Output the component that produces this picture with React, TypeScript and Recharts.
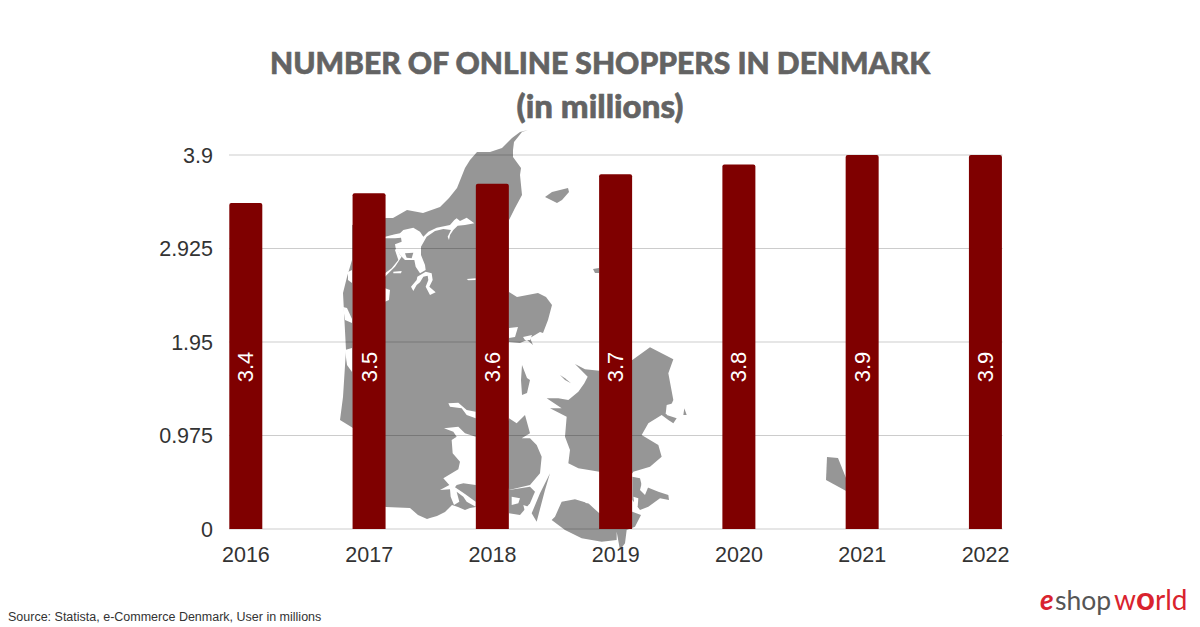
import { BarChart, Bar, XAxis, YAxis, CartesianGrid, LabelList } from 'recharts';

const years = ['2016', '2017', '2018', '2019', '2020', '2021', '2022'];
const shoppers = [3.4, 3.5, 3.6, 3.7, 3.8, 3.9, 3.9];
const yTicks = [0, 0.975, 1.95, 2.925, 3.9];

const rows = years.map((year, i) => ({ year, shoppers: shoppers[i] }));

// backdrop map, traced by hand (not data). Each group has its own origin and scale.
const LAND = '#969696';
const mapGroups = [
  {
    x: 0, y: 0, s: 1,
    land: [
      // Jutland
      '528,130 522,132 514,142 513,150 513,157 521,168 520,175 522,195 515,208 509,220 509,292 517,297 538,293 546,297 552,305 548,320 543,333 540,332 530,338 533,345 527,340 520,343 509,342 476,390 476,507 470,508 465,510 458,507 452,505 445,512 437,516 430,518 427,519 418,515 410,508 386,507 353,500 353,428 340,420 343,397 346,350 343,293 347,277 352,260 352,225 386,218 393,218 407,210 423,213 440,207 449,198 457,188 465,168 470,160 477,152 490,152 502,148 512,138 520,132',
      // Samso, Laeso, Anholt, Bornholm
      '522,365 527,378 530,380 527,393 522,395 521,380',
      '545,197 552,192 568,188 569,192 562,200 557,203',
      '593,269 599,268 599,273 595,273',
      '827,457 838,458 842,468 846,478 848,492 826,480',
    ],
    water: [
      '343,307 347,308 352,319 352,323 345,320',
      '348,272 352,270 352,283 348,280',
      '345,350 352,348 352,372 347,365',
      '509,328 518,327 515,337 509,338',
      '523,337 532,335 530,340 525,340',
    ],
  },
  {
    // Limfjord
    x: 385, y: 205, s: 1 / 3,
    land: [],
    water: [
      '0,95 30,88 45,85 55,75 85,68 105,80 115,95 130,80 155,68 195,60 208,45 215,40 225,48 245,38 268,55 240,60 218,62 205,75 195,90 192,105 188,95 198,75 175,72 150,78 125,95 108,125 108,150 120,180 122,195 105,205 92,185 88,165 60,165 45,150 32,130 30,118 50,110 48,98 30,100 0,100',
      '97,215 122,200 140,205 143,225 133,245 152,262 135,270 122,245 130,225 128,212 115,215 105,232 95,240 85,258 78,245 95,225',
      '35,130 45,150 50,155 30,185 5,210 0,215 0,205 20,190 40,165 30,135',
      '25,200 50,198 48,205 25,205',
      '0,250 15,255 12,285 0,290',
      '245,222 272,220 272,225 250,226',
    ],
  },
  {
    x: 385, y: 205, s: 1 / 3,
    land: ['60,145 85,143 80,160 65,158'],
    water: [],
  },
  {
    // Jutland east coast, Funen, Langeland
    x: 430, y: 390, s: 1 / 3,
    land: [
      '237,85 260,100 285,75 300,130 275,145 300,145 320,165 335,200 330,250 300,285 237,300 200,200',
      '237,300 300,290 315,305 300,340 270,375 237,370',
      '360,250 345,300 320,395 305,370 330,310',
    ],
    water: [
      '55,40 85,38 110,60 137,65 137,85 110,75 95,55 60,50',
      '42,115 85,110 105,130 137,140 137,285 100,280 80,285 75,292 105,312 137,335 137,350 110,335 100,320 80,305 88,335 72,345 62,320 60,298 30,300 58,285 40,265 85,238 90,215 68,190 65,150 80,140 70,125',
      '245,320 270,325 265,340 245,345',
      '280,345 295,350 285,365',
    ],
  },
  {
    // Zealand, Lolland, Falster, Mon
    x: 545, y: 340, s: 1 / 3,
    land: [
      '90,72 120,88 163,92 262,60 315,22 385,58 370,100 385,180 365,225 395,235 385,250 370,240 350,225 310,250 290,285 340,315 350,350 315,380 265,395 262,400 163,395 100,385 70,370 75,330 60,290 65,230 15,205 50,205 5,175 40,175 70,180 100,155 118,130 128,110',
      '418,205 425,225 415,225',
      '30,530 50,485 90,478 130,490 163,520 262,515 288,525 270,560 245,570 240,610 225,630 215,575 215,600 170,605 110,595 60,570 20,540',
      '262,410 285,415 290,435 340,455 370,465 372,480 345,475 310,500 285,510 262,480 262,440',
      '45,105 60,115 78,130 60,120',
    ],
    water: [
      '265,470 280,475 278,500 268,495',
      '290,430 310,440 300,465 285,450',
      '110,480 135,470 150,490 125,490',
      '365,195 385,190 372,225 362,222',
    ],
  },
];

function BarValue({ x, y, width, height, value }: any) {
  const cx = x + width / 2;
  // the value sits at the same height on every bar
  const cy = y + height - 162;
  return (
    <text x={cx} y={cy} fill="#ffffff" fontSize={22} textAnchor="middle" dominantBaseline="central"
      transform={`rotate(-90 ${cx} ${cy})`} fontFamily="Liberation Sans">
      {value}
    </text>
  );
}

const tickStyle = { fill: '#333333', fontSize: 21.5, fontFamily: 'Liberation Sans' };

export default function App() {
  return (
    <div style={{ position: 'absolute', left: 0, top: 0, width: 1200, height: 627, background: '#fff', overflow: 'hidden' }}>
      <svg width={1200} height={627} style={{ position: 'absolute', left: 0, top: 0 }}>
        {mapGroups.map((g, i) => (
          <g key={i} transform={`translate(${g.x} ${g.y}) scale(${g.s})`}>
            {g.land.map((p, j) => <polygon key={j} points={p} fill={LAND} />)}
            {g.water.map((p, j) => <polygon key={j} points={p} fill="#ffffff" />)}
          </g>
        ))}
      </svg>
      <div style={{ position: 'absolute', left: 0, top: 0 }}>
        <BarChart width={1200} height={627} data={rows} margin={{ top: 155, right: 197.5, left: 149, bottom: 58 }} barSize={33}>
          <CartesianGrid vertical={false} stroke="rgba(0,0,0,0.2)" strokeWidth={1} />
          <XAxis dataKey="year" interval={0} padding={{ left: -44.7, right: -44.7 }} axisLine={false} tickLine={false} tickMargin={12}
            tick={tickStyle} height={40} />
          <YAxis domain={[0, 3.9]} ticks={yTicks} interval={0} width={80} axisLine={false} tickLine={false} tickMargin={10}
            tick={tickStyle} />
          <Bar dataKey="shoppers" fill="#7f0000" radius={[2, 2, 0, 0]} isAnimationActive={false}>
            <LabelList dataKey="shoppers" content={BarValue} />
          </Bar>
        </BarChart>
      </div>
      <div style={{ position: 'absolute', left: 0, width: 1200, top: 41, textAlign: 'center', color: '#636363', fontFamily: 'Lato', fontWeight: 900, fontSize: 30, lineHeight: '43px', WebkitTextStroke: '0.6px #636363' }}>
        NUMBER OF ONLINE SHOPPERS IN DENMARK
        <br />
        <span style={{ fontSize: 33 }}>(in millions)</span>
      </div>
      <div style={{ position: 'absolute', left: 8, top: 610, color: '#333333', fontFamily: 'Liberation Sans', fontSize: 12.5 }}>
        Source: Statista, e-Commerce Denmark, User in millions
      </div>
      <svg width={170} height={50} style={{ position: 'absolute', left: 1030, top: 577 }}>
        <text y={33} fontFamily="Lato" fontSize={28}>
          <tspan x={10} fill="#d9232e" fontWeight={700} fontStyle="italic">e</tspan>
          <tspan x={25} fill="#555555" fontSize={26.5}>shop</tspan>
          <tspan x={84} fill="#d9232e">w</tspan>
          <tspan x={106} fill="#d9232e" fontWeight={700} fontSize={33}>o</tspan>
          <tspan x={125} fill="#d9232e">rld</tspan>
        </text>
      </svg>
    </div>
  );
}
